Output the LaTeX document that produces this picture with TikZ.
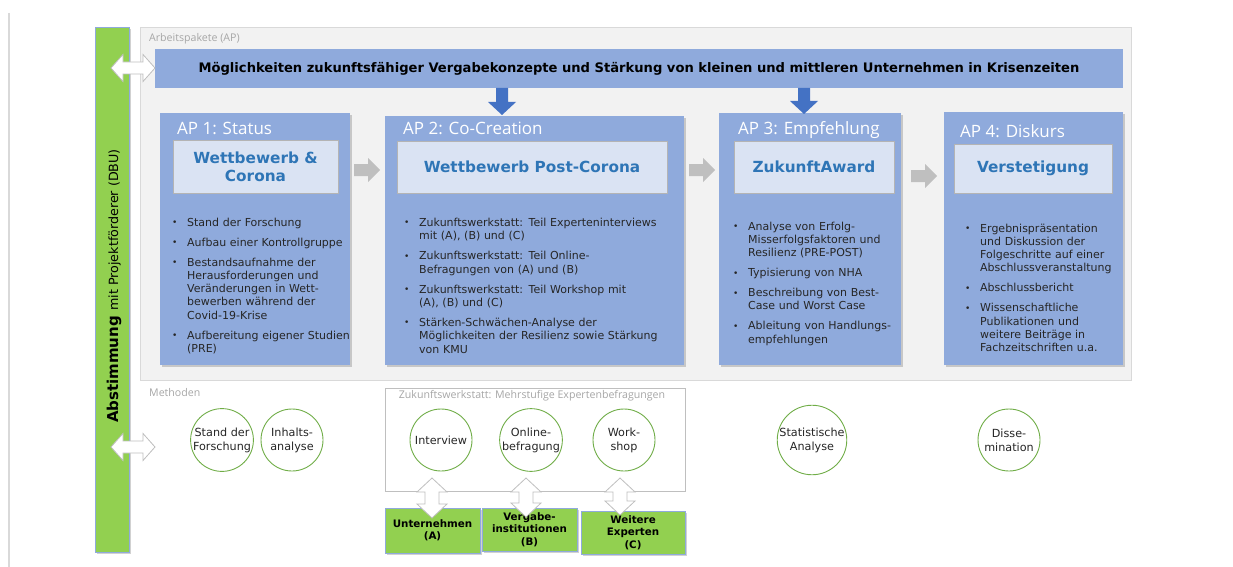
\documentclass[tikz,border=0pt]{standalone}
\usepackage{fontspec}
\setmainfont{DejaVu Sans}
\newfontfamily\segoe{Open Sans}
\usetikzlibrary{shadows}
\definecolor{apblue}{HTML}{8FAADC}
\definecolor{apinner}{HTML}{DAE3F3}
\definecolor{titleblue}{HTML}{2E75B6}
\definecolor{dbugreen}{HTML}{92D050}
\definecolor{arrowblue}{HTML}{4472C4}
\definecolor{arrowgray}{HTML}{BFBFBF}
\definecolor{circgreen}{HTML}{70AD47}
\definecolor{panelfill}{HTML}{F2F2F2}
\definecolor{panelline}{HTML}{D9D9D9}
\definecolor{labelgray}{HTML}{A6A6A6}
\definecolor{inline}{HTML}{B4B4B4}
\newcommand\bl[1]{\par\noindent\llap{\makebox[15pt][l]{\fontsize{9}{9}\selectfont\raisebox{0.6pt}{•}}}\strut#1\par\vspace{6.7pt}}
\newcommand\garrow[3]{\fill[arrowgray] (#1,#3-6) -- (#2-12,#3-6) -- (#2-12,#3-12) -- (#2,#3) -- (#2-12,#3+12) -- (#2-12,#3+6) -- (#1,#3+6) -- cycle;}
\newcommand\barrow[3]{\fill[arrowblue] (#1-6,#2) -- (#1+6,#2) -- (#1+6,#3-13) -- (#1+14,#3-13) -- (#1,#3) -- (#1-14,#3-13) -- (#1-6,#3-13) -- cycle;}
\newcommand\hdarrow[3]{\draw[whitearrow] (#1,#3) -- (#1+12,#3-13.5) -- (#1+12,#3-6) -- (#2-12,#3-6) -- (#2-12,#3-13.5) -- (#2,#3) -- (#2-12,#3+13.5) -- (#2-12,#3+6) -- (#1+12,#3+6) -- (#1+12,#3+13.5) -- cycle;}
\newcommand\vdarrow[3]{\draw[whitearrow] (#1,#2) -- (#1+15,#2+14) -- (#1+7,#2+14) -- (#1+7,#3-14) -- (#1+15,#3-14) -- (#1,#3) -- (#1-15,#3-14) -- (#1-7,#3-14) -- (#1-7,#2+14) -- (#1-15,#2+14) -- cycle;}
\begin{document}
\begin{tikzpicture}[x=1pt,y=-1pt,
  rbox/.style={anchor=north west, inner sep=0pt, outer sep=0pt},
  shadowed/.style={drop shadow={shadow xshift=2pt, shadow yshift=-2pt, opacity=0.3, fill=black!60}},
  apbox/.style={rbox, fill=apblue, shadowed},
  inbox/.style={rbox, fill=apinner, draw=inline, line width=1pt, align=center, font=\fontsize{15.3}{18}\selectfont\bfseries, text=titleblue},
  aphead/.style={anchor=west, inner sep=0pt, font=\segoe\fontsize{17}{20}\selectfont, text=white},
  bul/.style={anchor=north west, inner sep=0pt, text width=#1, align=left, font=\fontsize{11}{13.3}\selectfont, text=black!85},
  meth/.style={circle, draw=circgreen, line width=0.9pt, fill=white, minimum size=62pt, inner sep=0pt, align=center, font=\fontsize{11.2}{14}\selectfont, text=black!85},
  gbox/.style={rbox, fill=dbugreen, draw=apblue, line width=0.9pt, shadowed, align=center, font=\fontsize{10.3}{12.5}\selectfont\bfseries},
  glabel/.style={anchor=west, inner sep=0pt, font=\segoe\fontsize{10.6}{12}\selectfont, text=labelgray},
  whitearrow/.style={fill=white, draw=black!25, line width=0.8pt, line join=miter},
]
\useasboundingbox (0,0) rectangle (1233,567);
% left rule
\draw[panelline, line width=1.5pt] (9,13) -- (9,567);
% panel
\node[rbox, fill=panelfill, draw=panelline, line width=1pt, minimum width=991pt, minimum height=352pt] (panel) at (140,28) {};
\node[glabel] (aplabel) at (149,39) {Arbeitspakete (AP)};
% green bar
\node[rbox, fill=dbugreen, draw=apblue, line width=0.8pt, shadowed, minimum width=34pt, minimum height=525pt] (dbu) at (95,27) {};
\node[rotate=90, inner sep=0pt] (dbutext) at (114,286) {\fontsize{15}{15}\selectfont\bfseries Abstimmung \fontsize{12.7}{15}\selectfont\mdseries mit Projektförderer (DBU)};
% top bar
\node[rbox, fill=apblue, minimum width=968pt, minimum height=39pt, font=\fontsize{13.1}{15}\selectfont\bfseries] (top) at (155,49) {Möglichkeiten zukunftsfähiger Vergabekonzepte und Stärkung von kleinen und mittleren Unternehmen in Krisenzeiten};
% AP boxes
\node[apbox, minimum width=190pt, minimum height=252pt] (ap1) at (160,113) {};
\node[apbox, minimum width=299pt, minimum height=249pt] (ap2) at (385,116) {};
\node[apbox, minimum width=182pt, minimum height=252pt] (ap3) at (719,113) {};
\node[apbox, minimum width=179pt, minimum height=253pt] (ap4) at (944,112) {};
\node[aphead] (h1) at (177,128) {AP 1: Status};
\node[aphead] (h2) at (403,128) {AP 2: Co-Creation};
\node[aphead] (h3) at (738,130) {AP 3: Empfehlung};
\node[aphead] (h4) at (960,131) {AP 4: Diskurs};
\node[inbox, minimum width=165pt, minimum height=53pt] (in1) at (173,140) {Wettbewerb \&\\Corona};
\node[inbox, minimum width=270pt, minimum height=52pt] (in2) at (397,141) {Wettbewerb Post-Corona};
\node[inbox, minimum width=160pt, minimum height=52pt] (in3) at (734,141) {ZukunftAward};
\node[inbox, minimum width=158pt, minimum height=49pt] (in4) at (954,144) {Verstetigung};
% bullets
\node[bul=200pt] (l1) at (172,212.5) {\leftskip=15pt
\bl{Stand der Forschung}
\bl{Aufbau einer Kontrollgruppe}
\bl{Bestandsaufnahme der\\Herausforderungen und\\Veränderungen in Wett-\\bewerben während der\\Covid-19-Krise}
\bl{Aufbereitung eigener Studien\\(PRE)}};
\node[bul=290pt] (l2) at (404,213) {\leftskip=15pt
\bl{Zukunftswerkstatt: Teil Experteninterviews\\mit (A), (B) und (C)}
\bl{Zukunftswerkstatt: Teil Online-\\Befragungen von (A) und (B)}
\bl{Zukunftswerkstatt: Teil Workshop mit\\(A), (B) und (C)}
\bl{Stärken-Schwächen-Analyse der\\Möglichkeiten der Resilienz sowie Stärkung\\von KMU}};
\node[bul=200pt] (l3) at (733,216.5) {\leftskip=15pt
\bl{Analyse von Erfolg-\\Misserfolgsfaktoren und\\Resilienz (PRE-POST)}
\bl{Typisierung von NHA}
\bl{Beschreibung von Best-\\Case und Worst Case}
\bl{Ableitung von Handlungs-\\empfehlungen}};
\node[bul=200pt] (l4) at (965,218.5) {\leftskip=15pt
\bl{Ergebnispräsentation\\und Diskussion der\\Folgeschritte auf einer\\Abschlussveranstaltung}
\bl{Abschlussbericht}
\bl{Wissenschaftliche\\Publikationen und\\weitere Beiträge in\\Fachzeitschriften u.a.}};
% arrows between APs
\garrow{354}{380}{170}
\garrow{689}{715}{170}
\garrow{911}{937}{176}
\barrow{502}{88}{115}
\barrow{804}{88}{114}
% white double arrows at left
\hdarrow{111}{155}{68}
\hdarrow{111}{155}{447}
% methods
\node[glabel] (mlabel) at (149,393) {Methoden};
\node[rbox, fill=white, draw=arrowgray, line width=1pt, minimum width=300pt, minimum height=103pt] (zw) at (385,388) {};
\node[glabel, anchor=north] (zwlabel) at (532,390.5) {Zukunftswerkstatt: Mehrstufige Expertenbefragungen};
\node[meth] (c1) at (222,440) {Stand der\\Forschung};
\node[meth] (c2) at (292,440) {Inhalts-\\analyse};
\node[meth] (c3) at (441,440) {Interview};
\node[meth] (c4) at (531,440) {Online-\\befragung};
\node[meth] (c5) at (624,440) {Work-\\shop};
\node[meth] (c6) at (812,440) {Statistische\\Analyse};
\node[meth] (c7) at (1009,440) {Disse-\\mination};
% green boxes
\node[gbox, minimum width=95pt, minimum height=45pt] (gA) at (385,508) {Unternehmen\\(A)};
\node[gbox, minimum width=95pt, minimum height=43pt] (gB) at (482,508) {Vergabe-\\institutionen\\(B)};
\node[gbox, minimum width=104pt, minimum height=43pt] (gC) at (581,511) {Weitere\\Experten\\(C)};
\vdarrow{432}{478}{518}
\vdarrow{526}{478}{517}
\vdarrow{620}{478}{515}
\end{tikzpicture}
\end{document}
